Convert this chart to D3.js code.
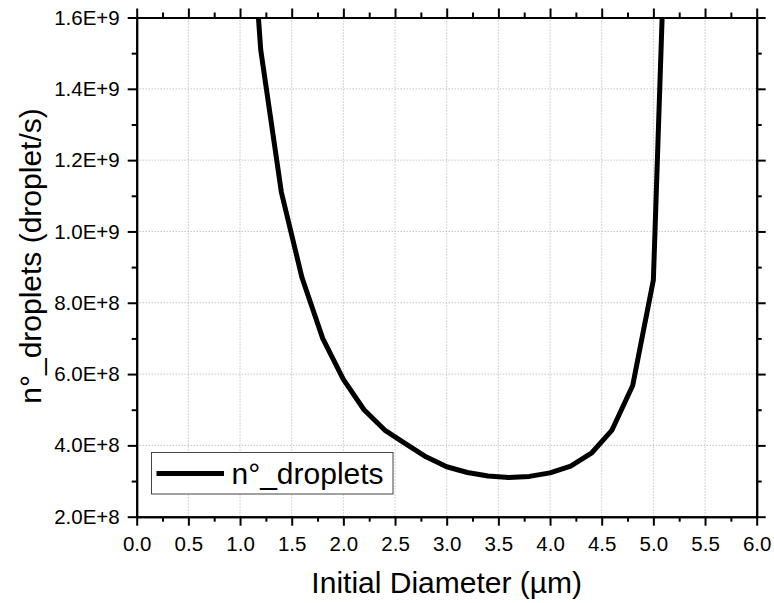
<html>

<head>
    <style>
        body { margin: 0; background: #fff; }
        text { font-family: "Liberation Sans", Arial, sans-serif; fill: #000; }
    </style>
</head>

<body>
    <svg id="container" height="603" width="774"></svg>
</body>
<script src="https://cdn.jsdelivr.net/npm/d3@7"></script>
<script>
    // data
    let diameters = [1.0, 1.2, 1.4, 1.6, 1.8, 2.0, 2.2, 2.4, 2.6, 2.8, 3.0,
                     3.2, 3.4, 3.6, 3.8, 4.0, 4.2, 4.4, 4.6, 4.8, 5.0, 5.2]
    let droplets = [2.33e9, 1.51e9, 1.11e9, 0.87e9, 0.70e9, 0.585e9, 0.50e9, 0.443e9,
                    0.405e9, 0.368e9, 0.340e9, 0.324e9, 0.314e9, 0.310e9, 0.313e9,
                    0.323e9, 0.342e9, 0.378e9, 0.443e9, 0.568e9, 0.864e9, 2.6e9]
    let xTicks = [0, 0.5, 1, 1.5, 2, 2.5, 3, 3.5, 4, 4.5, 5, 5.5, 6]
    let yTicks = [2e8, 4e8, 6e8, 8e8, 1.0e9, 1.2e9, 1.4e9, 1.6e9]
    let seriesName = "n°_droplets"

    let svg = d3.select("#container")
    let pLeft = 136.7, pRight = 756.7, pTop = 17.5, pBottom = 516.7

    let x = d3.scaleLinear().domain([0, 6]).range([pLeft, pRight])
    let y = d3.scaleLinear().domain([2e8, 1.6e9]).range([pBottom, pTop])

    // grid lines, major ticks only
    let grid = svg.append("g")
    grid.selectAll(".gx")
        .data(xTicks.slice(1, -1))
        .enter().append("line")
        .attr("x1", d => x(d)).attr("x2", d => x(d))
        .attr("y1", pTop).attr("y2", pBottom)
        .attr("stroke", "#aaa").attr("stroke-width", 1)
        .attr("stroke-dasharray", "1,2")
    grid.selectAll(".gy")
        .data(yTicks.slice(1, -1))
        .enter().append("line")
        .attr("y1", d => y(d)).attr("y2", d => y(d))
        .attr("x1", pLeft).attr("x2", pRight)
        .attr("stroke", "#aaa").attr("stroke-width", 1)
        .attr("stroke-dasharray", "1,2")

    // the curve, clipped to the plot frame
    svg.append("clipPath").attr("id", "clip")
        .append("rect")
        .attr("x", pLeft).attr("y", pTop)
        .attr("width", pRight - pLeft).attr("height", pBottom - pTop)

    let points = diameters.map((d, i) => [d, droplets[i]])
    let line = d3.line().x(d => x(d[0])).y(d => y(d[1]))
    svg.append("path")
        .attr("clip-path", "url(#clip)")
        .attr("d", line(points))
        .attr("fill", "none")
        .attr("stroke", "#000")
        .attr("stroke-width", 5)
        .attr("stroke-linejoin", "round")

    // axes on all four sides, ticks pointing out
    let xMinor = d3.range(0.25, 6, 0.5)
    let yMinor = d3.range(3e8, 1.6e9, 2e8)
    let fmt = d => d.toExponential(1).toUpperCase()

    function styleAxis(g) {
        g.selectAll(".domain").attr("stroke-width", 2)
        g.selectAll(".tick line").attr("stroke-width", 2)
        g.selectAll("g").attr("font-size", null).attr("font-family", null)
        g.selectAll("text").style("font-size", "20.5px")
            .style("font-family", "'Liberation Sans', Arial, sans-serif")
    }

    let xb = svg.append("g").attr("transform", "translate(0," + pBottom + ")")
    xb.append("g").call(d3.axisBottom(x).tickValues(xMinor).tickSize(5).tickFormat("").tickSizeOuter(0))
    xb.append("g").call(d3.axisBottom(x).tickValues(xTicks).tickSize(9).tickPadding(11)
        .tickFormat(d3.format(".1f")).tickSizeOuter(0))
    styleAxis(xb)

    let xt = svg.append("g").attr("transform", "translate(0," + pTop + ")")
    xt.append("g").call(d3.axisTop(x).tickValues(xMinor).tickSize(5).tickFormat("").tickSizeOuter(0))
    xt.append("g").call(d3.axisTop(x).tickValues(xTicks).tickSize(9).tickFormat("").tickSizeOuter(0))
    styleAxis(xt)

    let yl = svg.append("g").attr("transform", "translate(" + pLeft + ",0)")
    yl.append("g").call(d3.axisLeft(y).tickValues(yMinor).tickSize(5).tickFormat("").tickSizeOuter(0))
    yl.append("g").call(d3.axisLeft(y).tickValues(yTicks).tickSize(9).tickPadding(8)
        .tickFormat(fmt).tickSizeOuter(0))
    styleAxis(yl)

    let yr = svg.append("g").attr("transform", "translate(" + pRight + ",0)")
    yr.append("g").call(d3.axisRight(y).tickValues(yMinor).tickSize(5).tickFormat("").tickSizeOuter(0))
    yr.append("g").call(d3.axisRight(y).tickValues(yTicks).tickSize(9).tickFormat("").tickSizeOuter(0))
    styleAxis(yr)

    // axis titles
    svg.append("text")
        .attr("x", (pLeft + pRight) / 2).attr("y", 593)
        .attr("text-anchor", "middle")
        .style("font-size", "30px")
        .text("Initial Diameter (µm)")

    svg.append("text")
        .attr("transform", "translate(41,256) rotate(-90)")
        .attr("text-anchor", "middle")
        .style("font-size", "30px")
        .text("n°_droplets (droplet/s)")

    // legend
    let legend = svg.append("g").attr("transform", "translate(151.5,452.5)")
    legend.append("rect")
        .attr("width", 241.5).attr("height", 41.5)
        .attr("fill", "#fff").attr("stroke", "#444").attr("stroke-width", 1)
    legend.append("line")
        .attr("x1", 5).attr("x2", 72.5)
        .attr("y1", 21).attr("y2", 21)
        .attr("stroke", "#000").attr("stroke-width", 5)
    legend.append("text")
        .attr("x", 80).attr("y", 31)
        .style("font-size", "30px")
        .text(seriesName)
</script>

</html>
